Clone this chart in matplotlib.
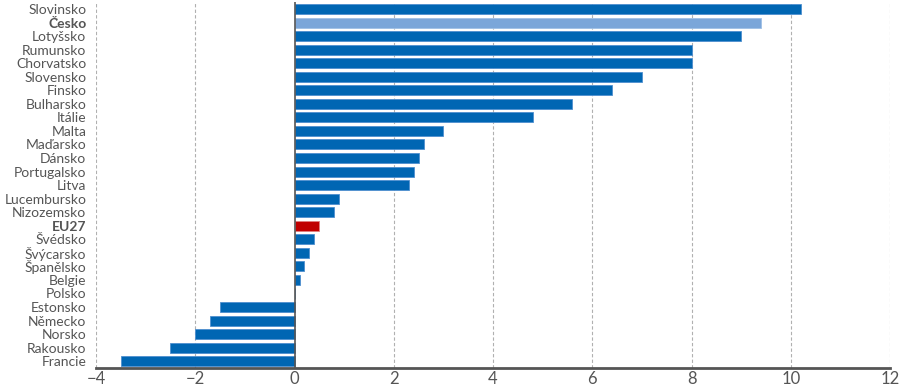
import matplotlib
matplotlib.use("Agg")
import matplotlib.pyplot as plt
from matplotlib import font_manager

countries = ["Slovinsko", "Česko", "Lotyšsko", "Rumunsko", "Chorvatsko", "Slovensko",
             "Finsko", "Bulharsko", "Itálie", "Malta", "Maďarsko", "Dánsko",
             "Portugalsko", "Litva", "Lucembursko", "Nizozemsko", "EU27", "Švédsko",
             "Švýcarsko", "Španělsko", "Belgie", "Polsko", "Estonsko", "Německo",
             "Norsko", "Rakousko", "Francie"]
values = [10.2, 9.4, 9.0, 8.0, 8.0, 7.0, 6.4, 5.6, 4.8, 3.0, 2.6, 2.5,
          2.4, 2.3, 0.9, 0.8, 0.5, 0.4, 0.3, 0.2, 0.1, 0.0, -1.5, -1.7,
          -2.0, -2.5, -3.5]
xticks = [-4, -2, 0, 2, 4, 6, 8, 10, 12]
highlight = {"Česko": "#7ba6d9", "EU27": "#c00000"}
bold = {"Česko", "EU27"}

names = {f.name for f in font_manager.fontManager.ttflist}
if "Liberation Sans Narrow" in names:
    lab_family = ["Liberation Sans Narrow", "DejaVu Sans"]
    lab_size = 12
else:
    lab_family = ["Lato", "DejaVu Sans"]
    lab_size = 10
plt.rcParams['font.family'] = ['Lato', 'DejaVu Sans']

fig = plt.figure(figsize=(9, 3.86), dpi=100)
ax = fig.add_axes([0.1067, 0.0466, 0.8823, 0.9477])

base = "#0066b3"
colors = [highlight.get(c, base) for c in countries]
edge = ["#e08080" if c == "EU27" else "#9fc0e6" if c == "Česko" else "#4f8fcf" for c in countries]
ypos = list(range(len(countries)))
ax.barh(ypos, values, height=0.74, color=colors, edgecolor=edge, linewidth=0.6, zorder=3)

ax.set_ylim(len(countries) - 0.5, -0.5)
ax.set_xlim(-4, 12)
ax.set_xticks(xticks)
ax.set_xticklabels([("\u2212" + str(abs(t))) if t < 0 else str(t) for t in xticks])

for t in xticks:
    if t != 0:
        ax.axvline(t, color="#b0b0b0", linestyle=(0, (3, 2)), linewidth=0.8, zorder=1)
ax.axvline(0, color="#555555", linewidth=1.2, zorder=4)

ax.set_yticks(ypos)
ax.set_yticklabels(countries)
for lbl in ax.get_yticklabels():
    lbl.set_family(lab_family)
    lbl.set_fontsize(lab_size)
    if lbl.get_text() in bold:
        lbl.set_fontweight("bold")
ax.tick_params(axis="y", length=0, pad=7, labelcolor="#555555")
ax.tick_params(axis="x", length=0, pad=2, labelsize=12, labelcolor="#555555")

for s in ["top", "right", "left"]:
    ax.spines[s].set_visible(False)
ax.spines["bottom"].set_color("#555555")
ax.spines["bottom"].set_linewidth(2)

fig.savefig("out.png", dpi=100)
